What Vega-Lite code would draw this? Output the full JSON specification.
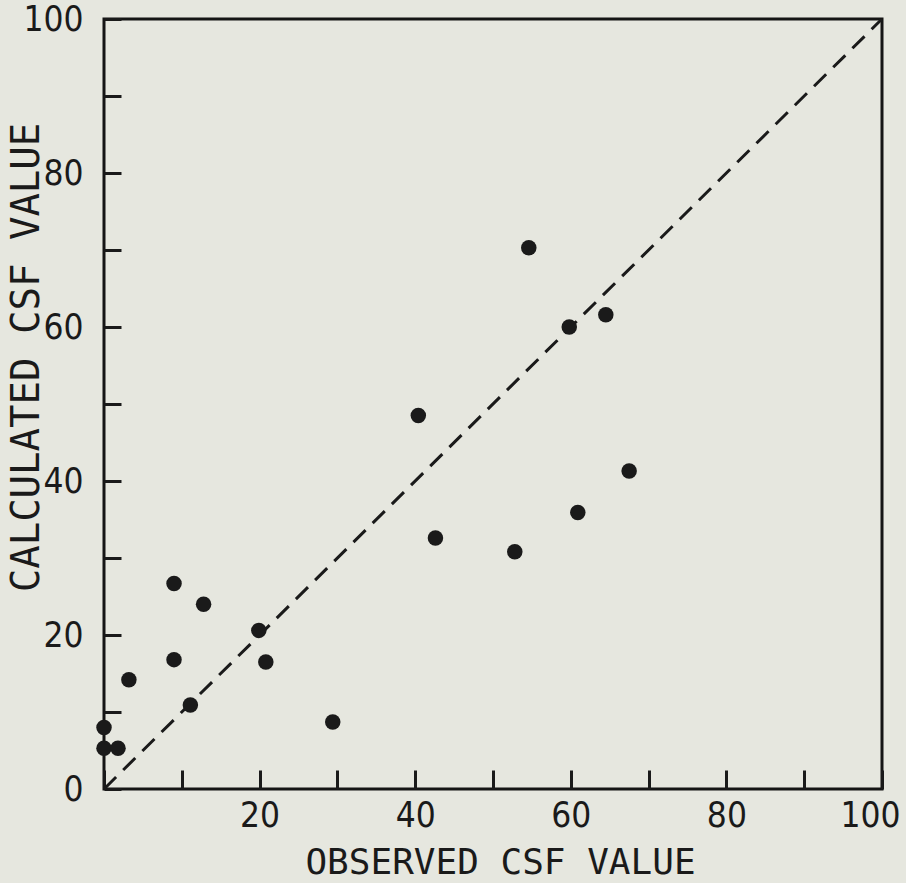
{
  "$schema": "https://vega.github.io/schema/vega-lite/v6.json",
  "autosize": {"type": "none"},
  "width": 778,
  "height": 770,
  "padding": {"left": 104, "top": 19, "right": 24, "bottom": 94},
  "background": "#e6e7df",
  "config": {
    "view": {"stroke": "#151515", "strokeWidth": 3},
    "axis": {"grid": false, "domain": false}
  },
  "datasets": {
    "points": [
      {"observed": 54.6, "calculated": 70.3},
      {"observed": 59.8, "calculated": 60.0},
      {"observed": 64.5, "calculated": 61.6},
      {"observed": 40.4, "calculated": 48.5},
      {"observed": 67.5, "calculated": 41.3},
      {"observed": 60.9, "calculated": 35.9},
      {"observed": 42.6, "calculated": 32.6},
      {"observed": 52.8, "calculated": 30.8},
      {"observed": 9.0, "calculated": 26.7},
      {"observed": 12.8, "calculated": 24.0},
      {"observed": 19.9, "calculated": 20.6},
      {"observed": 9.0, "calculated": 16.8},
      {"observed": 20.8, "calculated": 16.5},
      {"observed": 3.2, "calculated": 14.2},
      {"observed": 11.1, "calculated": 10.9},
      {"observed": 29.4, "calculated": 8.7},
      {"observed": 0.0, "calculated": 8.0},
      {"observed": 0.0, "calculated": 5.3},
      {"observed": 1.8, "calculated": 5.3}
    ],
    "identity": [
      {"observed": 0, "calculated": 0},
      {"observed": 100, "calculated": 100}
    ]
  },
  "layer": [
    {
      "data": {"name": "identity"},
      "mark": {"type": "line", "color": "#1a1a1a", "strokeWidth": 3, "strokeDash": [17, 10], "clip": true},
      "encoding": {
        "x": {
          "field": "observed", "type": "quantitative",
          "scale": {"domain": [0, 100], "nice": false, "zero": true},
          "axis": {
            "values": [0, 10, 20, 30, 40, 50, 60, 70, 80, 90, 100],
            "labelExpr": "datum.value % 20 == 0 && datum.value > 0 ? datum.label : ''",
            "tickSize": -19, "tickWidth": 3, "tickColor": "#1a1a1a",
            "labelPadding": 45,
            "labelFont": "DejaVu Sans Condensed, DejaVu Sans",
            "labelFontSize": 35, "labelColor": "#1a1a1a",
            "labelBaseline": "middle", "labelFlush": true, "labelFlushOffset": 18,
            "labelOverlap": false,
            "title": "OBSERVED CSF VALUE",
            "titleFont": "DejaVu Sans Mono", "titleFontSize": 36, "titleFontWeight": "normal",
            "titleColor": "#1a1a1a",
            "titleX": 396, "titleY": 73, "titleBaseline": "middle", "titleAlign": "center"
          }
        },
        "y": {
          "field": "calculated", "type": "quantitative",
          "scale": {"domain": [0, 100], "nice": false, "zero": true},
          "axis": {
            "values": [0, 10, 20, 30, 40, 50, 60, 70, 80, 90, 100],
            "labelExpr": "datum.value % 20 == 0 ? datum.label : ''",
            "tickSize": -17, "tickWidth": 3, "tickColor": "#1a1a1a",
            "labelPadding": 38,
            "labelFont": "DejaVu Sans Condensed, DejaVu Sans",
            "labelFontSize": 35, "labelColor": "#1a1a1a",
            "labelFlush": false, "labelOverlap": false,
            "title": "CALCULATED CSF VALUE",
            "titleFont": "DejaVu Sans Mono", "titleFontSize": 39, "titleFontWeight": "normal",
            "titleColor": "#1a1a1a",
            "titleAngle": -90, "titleX": -78, "titleY": 338,
            "titleBaseline": "middle", "titleAlign": "center"
          }
        }
      }
    },
    {
      "data": {"name": "points"},
      "mark": {"type": "circle", "color": "#1a1a1a", "opacity": 1, "size": 240, "clip": false},
      "encoding": {
        "x": {"field": "observed", "type": "quantitative"},
        "y": {"field": "calculated", "type": "quantitative"}
      }
    }
  ]
}
